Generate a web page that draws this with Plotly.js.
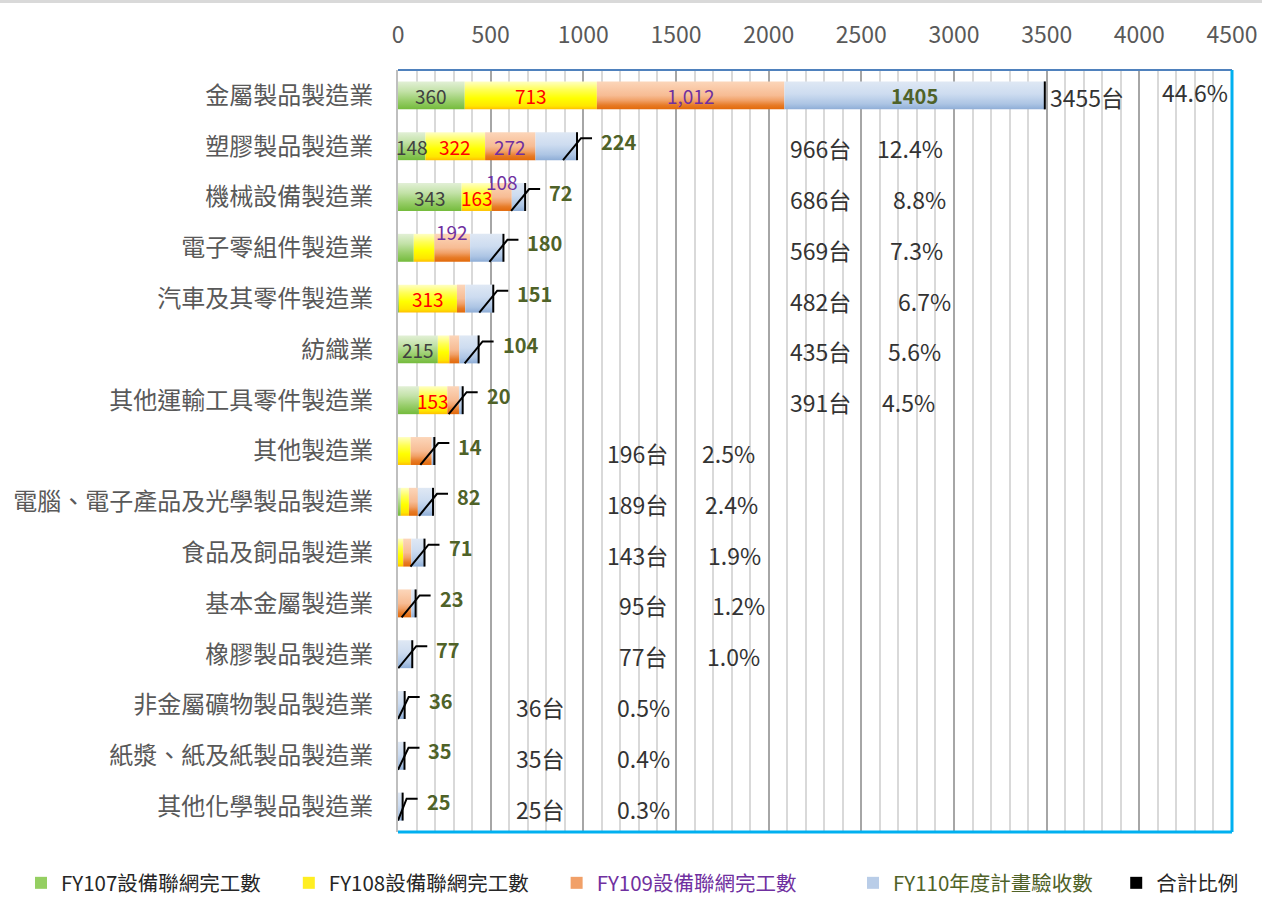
<!DOCTYPE html>
<html><head><meta charset="utf-8">
<script src="https://cdn.plot.ly/plotly-3.0.1.min.js"></script>
<style>body{margin:0;background:#fff}#chart{width:1262px;height:900px}</style>
</head><body><div id="chart"></div>
<script>
// ---------------- data ----------------
const categories = ['金屬製品製造業','塑膠製品製造業','機械設備製造業','電子零組件製造業','汽車及其零件製造業','紡織業','其他運輸工具零件製造業','其他製造業','電腦、電子產品及光學製品製造業','食品及飼品製造業','基本金屬製造業','橡膠製品製造業','非金屬礦物製品製造業','紙漿、紙及紙製品製造業','其他化學製品製造業'];
const fy107 = [360,148,343,85,5,215,113,0,15,0,0,0,0,0,0];
const fy108 = [713,322,163,112,313,62,153,68,44,28,0,0,0,0,0];
const fy109 = [1012,272,108,192,45,54,63,114,48,44,72,0,0,0,0];
const fy110 = [1405,224,72,180,151,104,20,14,82,71,23,77,36,35,25];
const lbl107 = ['360','148','343','','','215','','','','','','','','',''];
const lbl108 = ['713','322','163','','313','','153','','','','','','','',''];
const lbl109 = ['1,012','272','108','192','','','','','','','','','','',''];
const lbl110 = ['1405','224','72','180','151','104','20','14','82','71','23','77','36','35','25'];
const totalText = ['3455台','966台','686台','569台','482台','435台','391台','196台','189台','143台','95台','77台','36台','35台','25台'];
const ratioText = ['44.6%','12.4%','8.8%','7.3%','6.7%','5.6%','4.5%','2.5%','2.4%','1.9%','1.2%','1.0%','0.5%','0.4%','0.3%'];
const seriesNames = ['FY107設備聯網完工數','FY108設備聯網完工數','FY109設備聯網完工數','FY110年度計畫驗收數','合計比例'];
const xTicks = [0,500,1000,1500,2000,2500,3000,3500,4000,4500];

// ---------------- style / layout constants ----------------
const W = 1262, H = 900, M = {l:398, r:30, t:70, b:68};
const XMAX = 4500;
const plotW = W - M.l - M.r, plotH = H - M.t - M.b;
const upx = XMAX / plotW;                 // data units per pixel
const rowPx = plotH / categories.length;  // pixels per row
const rpx = 1 / rowPx;                    // rows per pixel
const barH = 0.55;
const FONT = '"Noto Sans CJK TC", "Noto Sans", sans-serif';
const grads = [
  [[0,'#e2f0d6'],[0.35,'#c3e2a8'],[0.7,'#97cd69'],[1,'#74bb3c']],
  [[0,'#ffffc4'],[0.3,'#ffff55'],[0.6,'#ffff00'],[0.88,'#ffe600'],[1,'#ffbf00']],
  [[0,'#fcd6ba'],[0.5,'#f7bc94'],[0.68,'#f1a168'],[0.85,'#e77b27'],[1,'#e2690a']],
  [[0,'#dfe8f4'],[0.45,'#cddcf0'],[0.8,'#adc5e4'],[1,'#8eadd6']]
];
const legendColors = ['#95cf62','#ffee22','#f1a068','#b9cde8','#000000'];
const nameColors = ['#262626','#262626','#7030a0','#4f6228','#262626'];
const lblColors = ['#404040','#ff0000','#7030a0','#4f6228'];
// page-pixel columns for the total / ratio texts (right edges)
const totalRightPx = [null,853,853,853,853,853,853,670,670,670,670,670,567,567,567];
const ratioRightPx = [1230,945,948,945,953,943,937,757,760,763,767,762,672,672,672];
const legendOf = ['legend','legend','legend','legend2','legend2'];
const legendPad = [5,5,5,4,0];
const NBSP = '\u00a0';

const pxToX = px => (px - M.l) * upx;

// ---------------- build traces ----------------
const series = [fy107, fy108, fy109, fy110];
const seriesLbl = [lbl107, lbl108, lbl109, lbl110];
const cum = categories.map(() => 0);
const traces = [];
const annotations = [];

series.forEach((vals, s) => {
  vals.forEach((v, i) => {
    if (!v) return;
    const x0 = cum[i], x1 = cum[i] + v;
    cum[i] = x1;
    const yt = i - barH/2, yb = i + barH/2;
    traces.push({
      type:'scatter', mode:'lines',
      x:[x0,x1,x1,x0,x0], y:[yt,yt,yb,yb,yt],
      fill:'toself', line:{width:0, color:'rgba(0,0,0,0)'},
      fillgradient:{type:'vertical', start:yt, stop:yb, colorscale:grads[s]},
      showlegend:false, hoverinfo:'skip'
    });
    const lbl = seriesLbl[s][i];
    if (!lbl) return;
    const segPx = v / upx;
    if (s < 3) {
      const above = (s === 2 && segPx < 40);
      annotations.push({
        x:(x0+x1)/2, y: above ? i - 16*rpx : i, xref:'x', yref:'y',
        text:lbl, showarrow:false, xanchor:'center', yanchor:'middle',
        font:{family:FONT, size:19, color:lblColors[s]}
      });
    } else {
      const inside = segPx > 60;
      annotations.push({
        x: inside ? (x0+x1)/2 : x1 + 22*upx, y: inside ? i : i - 5*rpx,
        xref:'x', yref:'y', text:'<b>'+lbl+'</b>', showarrow:false,
        xanchor: inside ? 'center' : 'left', yanchor:'middle',
        font:{family:FONT, size:20, color:lblColors[3]}
      });
    }
  });
});

// 合計比例 glyphs (black line marks at bar ends)
const gx = [], gy = [];
cum.forEach((end, i) => {
  const yt = i - barH/2, yb = i + barH/2;
  gx.push(end, end, null); gy.push(yt, yb, null);
  if (i > 0) {
    const cy = yt + 6*rpx;
    gx.push(Math.max(0, end - 14*upx), end + 4*upx, end + 15*upx, null);
    gy.push(yb, cy, cy, null);
  }
});
traces.push({type:'scatter', mode:'lines', x:gx, y:gy, line:{color:'#000', width:2},
  showlegend:false, hoverinfo:'skip', cliponaxis:false});

// legend-only traces
seriesNames.forEach((n, k) => {
  traces.push({type:'bar', orientation:'h', x:[null], y:[null],
    name:'<span style="color:'+nameColors[k]+'">'+n+'</span>'+NBSP.repeat(legendPad[k]),
    marker:{color:legendColors[k]}, hoverinfo:'skip', legend:legendOf[k]});
});

// total + ratio texts
categories.forEach((c, i) => {
  const yy = i + 2*rpx;
  if (totalRightPx[i] === null) {
    annotations.push({x:cum[i] + 3*upx, y:yy, xref:'x', yref:'y', text:totalText[i],
      showarrow:false, xanchor:'left', yanchor:'middle',
      font:{family:FONT, size:23, color:'#333333'}});
  } else {
    annotations.push({x:pxToX(totalRightPx[i]), y:yy, xref:'x', yref:'y', text:totalText[i],
      showarrow:false, xanchor:'right', yanchor:'middle',
      font:{family:FONT, size:23, color:'#333333'}});
  }
  annotations.push({x:pxToX(ratioRightPx[i]), y: i === 0 ? i - 3*rpx : yy, xref:'x', yref:'y', text:ratioText[i],
    showarrow:false, xanchor:'right', yanchor:'middle',
    font:{family:FONT, size:23, color:'#333333'}});
});

const legendBase = {
  orientation:'h', xref:'container', yref:'container',
  y:(H - 883)/H, xanchor:'left', yanchor:'middle',
  font:{family:FONT, size:20.5, color:'#262626'}, bgcolor:'rgba(0,0,0,0)',
  traceorder:'normal'
};

const layout = {
  width:W, height:H, margin:M,
  paper_bgcolor:'#ffffff', plot_bgcolor:'#ffffff',
  font:{family:FONT, color:'#262626'},
  showlegend:true,
  xaxis:{
    side:'top', range:[0, XMAX], tickvals:xTicks, ticktext:xTicks.map(String),
    tickfont:{family:FONT, size:23, color:'#595959'},
    showgrid:true, gridcolor:'#a6a6a6', gridwidth:2,
    minor:{dtick:100, tick0:0, showgrid:true, gridcolor:'#d9d9d9', gridwidth:2},
    zeroline:false, showline:false, ticks:'', ticklabelstandoff:21, fixedrange:true
  },
  yaxis:{
    range:[categories.length - 0.5, -0.5],
    tickvals:categories.map((c,i)=>i), ticktext:categories,
    tickfont:{family:FONT, size:24, color:'#595959'},
    showgrid:false, zeroline:false, showline:true, linecolor:'#bfbfbf', linewidth:2,
    ticks:'', ticklabelstandoff:18, fixedrange:true
  },
  legend:Object.assign({}, legendBase, {x:21/W}),
  legend2:Object.assign({}, legendBase, {x:853/W}),
  shapes:[
    {type:'line', xref:'paper', yref:'paper', x0:0, x1:1, y0:1, y1:1, line:{color:'#4f81bd', width:2}, layer:'above'},
    {type:'line', xref:'paper', yref:'paper', x0:1, x1:1, y0:0, y1:1, line:{color:'#00b0f0', width:3}, layer:'above'},
    {type:'line', xref:'paper', yref:'paper', x0:0, x1:1, y0:0, y1:0, line:{color:'#00b0f0', width:3}, layer:'above'},
    {type:'rect', xref:'paper', yref:'paper', x0:-M.l/plotW, x1:(W-M.l)/plotW,
      y0:1 + (M.t-3)/plotH, y1:1 + M.t/plotH, fillcolor:'#d9d9d9', line:{width:0}, layer:'above'}
  ],
  annotations:annotations
};

Plotly.newPlot('chart', traces, layout, {displayModeBar:false, staticPlot:true});
</script>
</body></html>
